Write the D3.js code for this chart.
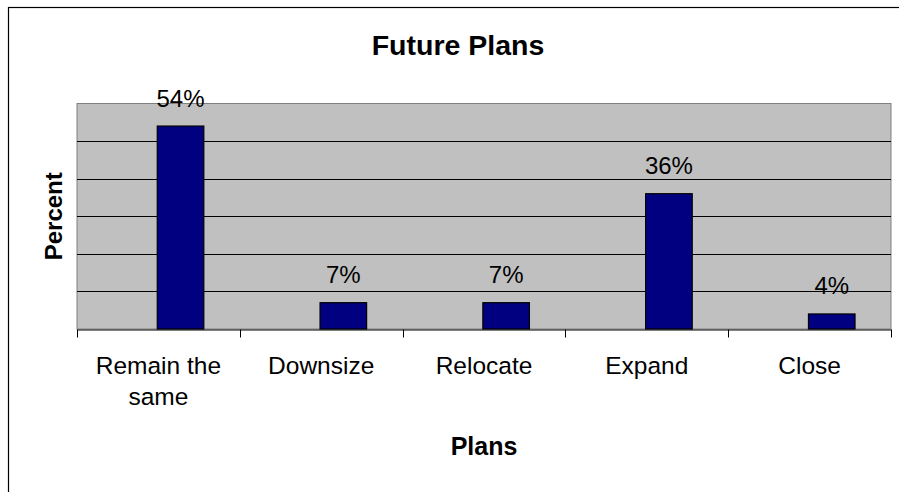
<!DOCTYPE html>
<html>
<head>
<meta charset="utf-8">
<script src="https://cdn.jsdelivr.net/npm/d3@7"></script>
<style>
html,body{margin:0;padding:0;background:#fff;}
svg{display:block;font-family:"Liberation Sans",Arial,sans-serif;}
</style>
</head>
<body>
<svg id="chart" width="899" height="492"></svg>
<script>
const categories = [["Remain the", "same"], ["Downsize"], ["Relocate"], ["Expand"], ["Close"]];
const values = [54, 7, 7, 36, 4];
const valueLabels = ["54%", "7%", "7%", "36%", "4%"];
const yTicks = [0, 10, 20, 30, 40, 50, 60];
const titleText = "Future Plans";
const xTitle = "Plans";
const yTitle = "Percent";

const svg = d3.select("#chart");
const W = 899, H = 492;
const plot = {left: 77, right: 891, top: 103.5, bottom: 329};

// outer chart frame
svg.append("rect").attr("x", 8.5).attr("y", 7.5).attr("width", W + 20).attr("height", H + 20)
  .attr("fill", "#fff").attr("stroke", "#000").attr("stroke-width", 1.2);

const keys = categories.map((c, i) => i);
const x = d3.scaleBand().domain(keys).range([plot.left, plot.right]).padding(0);
const y = d3.scaleLinear().domain([0, 60]).range([plot.bottom, plot.top]);

// plot area
svg.append("rect").attr("x", plot.left).attr("y", plot.top)
  .attr("width", plot.right - plot.left).attr("height", plot.bottom - plot.top)
  .attr("fill", "#C0C0C0").attr("stroke", "#808080").attr("stroke-width", 1);

// gridlines
svg.append("g").selectAll("line").data(yTicks.filter(t => t > 0 && t < 60)).join("line")
  .attr("x1", plot.left).attr("x2", plot.right)
  .attr("y1", d => Math.round(y(d)) + 0.5).attr("y2", d => Math.round(y(d)) + 0.5)
  .attr("stroke", "#000").attr("stroke-width", 1);

// x axis
const xAxis = d3.axisBottom(x).tickSize(0).tickFormat("");
const gx = svg.append("g").attr("transform", `translate(0,${plot.bottom + 0.5})`).call(xAxis);
gx.select(".domain").attr("stroke", "#000");
// category boundary ticks
const bounds = keys.map(k => x(k)).concat([x(keys[keys.length - 1]) + x.bandwidth()]);
gx.selectAll(".bound").data(bounds).join("line").attr("class", "bound")
  .attr("x1", d => Math.round(d) + 0.5).attr("x2", d => Math.round(d) + 0.5)
  .attr("y1", 0).attr("y2", 8).attr("stroke", "#000").attr("stroke-width", 1);

// bars
const bw = x.bandwidth();
const barOff = bw * 0.493, barW = bw * 0.286;
svg.append("g").selectAll("rect").data(values).join("rect")
  .attr("x", (d, i) => x(i) + barOff)
  .attr("y", d => y(d))
  .attr("width", barW)
  .attr("height", d => y(0) - y(d))
  .attr("fill", "#000080").attr("stroke", "#000").attr("stroke-width", 1.2);

// value labels
svg.append("g").selectAll("text").data(values).join("text")
  .attr("x", (d, i) => x(i) + barOff + barW / 2)
  .attr("y", d => y(d) - 19.5)
  .attr("text-anchor", "middle").attr("font-size", 24).attr("fill", "#000")
  .text((d, i) => valueLabels[i]);

// category labels
const cl = svg.append("g").selectAll("text").data(categories).join("text")
  .attr("x", (d, i) => x(i) + bw / 2)
  .attr("y", 374)
  .attr("text-anchor", "middle").attr("font-size", 24.5).attr("fill", "#000");
cl.selectAll("tspan").data(d => d).join("tspan")
  .attr("x", function() { return d3.select(this.parentNode).attr("x"); })
  .attr("dy", (d, j) => j === 0 ? 0 : 31)
  .text(d => d);

// titles
svg.append("text").attr("x", 458).attr("y", 55).attr("text-anchor", "middle")
  .attr("font-size", 28.5).attr("font-weight", "bold").text(titleText);
svg.append("text").attr("x", (plot.left + plot.right) / 2).attr("y", 455).attr("text-anchor", "middle")
  .attr("font-size", 25).attr("font-weight", "bold").text(xTitle);
svg.append("text").attr("transform", `translate(62,${(plot.top + plot.bottom) / 2}) rotate(-90)`)
  .attr("text-anchor", "middle").attr("font-size", 24).attr("font-weight", "bold").text(yTitle);
</script>
</body>
</html>
